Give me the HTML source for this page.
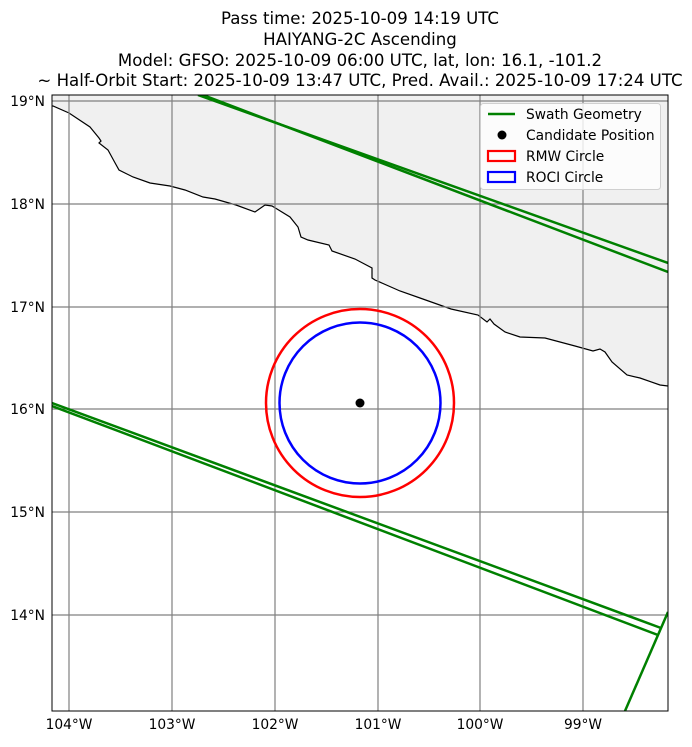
<!DOCTYPE html>
<html><head><meta charset="utf-8"><style>
body{margin:0;background:#fff;}
svg text{font-family:"DejaVu Sans","Liberation Sans",sans-serif;}
</style></head><body>
<svg width="692" height="742" viewBox="0 0 692 742" xmlns="http://www.w3.org/2000/svg">
<rect width="692" height="742" fill="#fff"/>
<g font-size="16.6" text-anchor="middle" fill="#000">
<text x="360" y="24">Pass time: 2025-10-09 14:19 UTC</text>
<text x="360" y="45">HAIYANG-2C Ascending</text>
<text x="360" y="66">Model: GFSO: 2025-10-09 06:00 UTC, lat, lon: 16.1, -101.2</text>
<text x="360" y="86">~ Half-Orbit Start: 2025-10-09 13:47 UTC, Pred. Avail.: 2025-10-09 17:24 UTC</text>
</g>
<defs><clipPath id="c"><rect x="52" y="95" width="616" height="616"/></clipPath></defs>
<g clip-path="url(#c)">
<polygon fill="#f0f0f0" points="52,95 668,95 668,386 660,385 640,378 627,375 612,362 605,352 600,349 593,351 575,346 545,338 520,337 505,332 494,324 490,319 487,322 478,315 451,309 420,298 400,291 375,280 372,278 372,268 355,259 332,251 329,245 308,240 301,237 298,227 290,217 277,209 272,206 265,205 255,212 236,205 215,199 203,197 185,190 170,186 150,183 133,177 119,170 114,161 108,150 99,143 101,141 99,138 90,127 69,113 53,106 52,106"/>
<polyline fill="none" stroke="#000" stroke-width="1.2" points="668,386 660,385 640,378 627,375 612,362 605,352 600,349 593,351 575,346 545,338 520,337 505,332 494,324 490,319 487,322 478,315 451,309 420,298 400,291 375,280 372,278 372,268 355,259 332,251 329,245 308,240 301,237 298,227 290,217 277,209 272,206 265,205 255,212 236,205 215,199 203,197 185,190 170,186 150,183 133,177 119,170 114,161 108,150 99,143 101,141 99,138 90,127 69,113 53,106 52,106"/>
<g stroke="#808080" stroke-width="1.2">
<line x1="69" y1="95" x2="69" y2="711"/><line x1="172" y1="95" x2="172" y2="711"/><line x1="275" y1="95" x2="275" y2="711"/><line x1="378" y1="95" x2="378" y2="711"/><line x1="480" y1="95" x2="480" y2="711"/><line x1="583" y1="95" x2="583" y2="711"/>
<line x1="52" y1="101" x2="668" y2="101"/><line x1="52" y1="204" x2="668" y2="204"/><line x1="52" y1="307" x2="668" y2="307"/><line x1="52" y1="409" x2="668" y2="409"/><line x1="52" y1="512" x2="668" y2="512"/><line x1="52" y1="615" x2="668" y2="615"/>
</g>
<g stroke="#008000" stroke-width="2.5" fill="none">
<line x1="198" y1="95" x2="668" y2="263"/>
<line x1="203" y1="95" x2="668" y2="272"/>
<line x1="52" y1="403" x2="661" y2="628"/>
<line x1="52" y1="406" x2="658" y2="635"/>
<line x1="668" y1="612" x2="625" y2="711"/>
</g>
<circle cx="360" cy="403" r="94" fill="none" stroke="#f00" stroke-width="2.5"/>
<circle cx="360" cy="403" r="80.5" fill="none" stroke="#00f" stroke-width="2.5"/>
<circle cx="360" cy="403" r="4.5" fill="#000"/>
</g>
<rect x="52" y="95" width="616" height="616" fill="none" stroke="#000" stroke-width="1"/>
<g font-size="13.8" fill="#000">
<g text-anchor="end">
<text x="45" y="106">19°N</text><text x="45" y="209">18°N</text><text x="45" y="312">17°N</text><text x="45" y="414">16°N</text><text x="45" y="517">15°N</text><text x="45" y="620">14°N</text>
</g>
<g text-anchor="middle">
<text x="69" y="729">104°W</text><text x="172" y="729">103°W</text><text x="275" y="729">102°W</text><text x="378" y="729">101°W</text><text x="480" y="729">100°W</text><text x="583" y="729">99°W</text>
</g>
</g>
<rect x="480.5" y="103.5" width="180" height="86" rx="3" fill="#fff" fill-opacity="0.8" stroke="#d0d0d0"/>
<line x1="488" y1="114" x2="515" y2="114" stroke="#008000" stroke-width="2.5"/>
<circle cx="502" cy="135" r="4.5" fill="#000"/>
<rect x="488" y="151" width="27" height="10" fill="none" stroke="#f00" stroke-width="2.2"/>
<rect x="488" y="172" width="27" height="10" fill="none" stroke="#00f" stroke-width="2.2"/>
<g font-size="13.8" fill="#000">
<text x="526" y="119">Swath Geometry</text>
<text x="526" y="140">Candidate Position</text>
<text x="526" y="161">RMW Circle</text>
<text x="526" y="182">ROCI Circle</text>
</g>
</svg>
</body></html>
